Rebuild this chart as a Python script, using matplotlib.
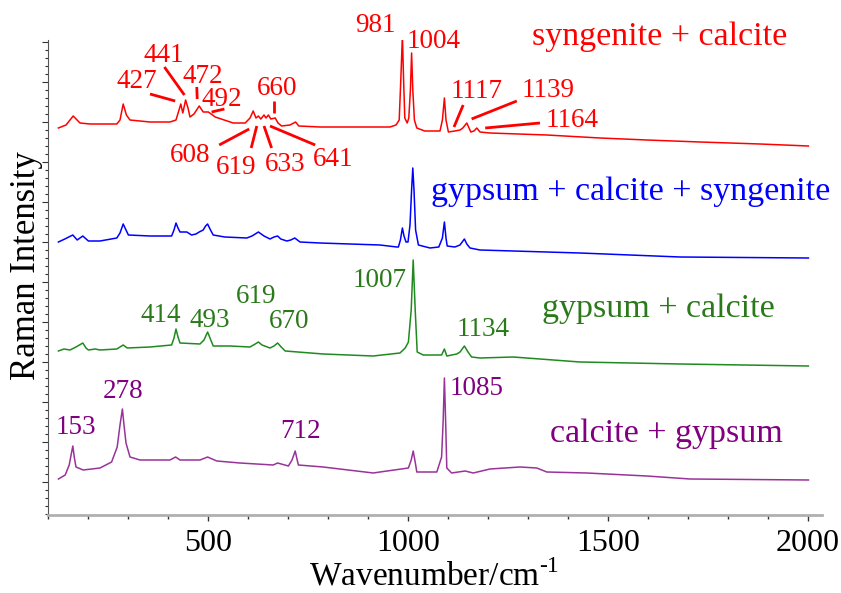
import numpy as np
import matplotlib
matplotlib.use("Agg")
import matplotlib.pyplot as plt
from matplotlib.ticker import MultipleLocator, FixedLocator, AutoMinorLocator, NullFormatter

plt.rcParams["font.family"] = ["Liberation Serif", "DejaVu Serif"]
plt.rcParams["mathtext.fontset"] = "custom"
plt.rcParams["mathtext.rm"] = "Liberation Serif"

# ----- traced spectra (wavenumber / cm-1, intensity in arbitrary units, already offset) -----
syn_x = [126, 145, 163, 180, 205, 272, 280, 288, 296, 305, 355, 405, 420, 432, 437, 444, 450, 455,
         465, 478, 488, 501, 518, 563, 593, 605, 613, 620, 626, 632, 640, 645, 651, 657, 668, 675,
         684, 705, 719, 727, 780, 880, 955, 970, 978, 982, 986, 989, 992, 998, 1002, 1006, 1009,
         1012, 1016, 1022, 1042, 1080, 1086, 1091, 1095, 1101, 1117, 1130, 1137, 1147, 1157, 1165,
         1172, 1180, 1205, 1347, 1480, 1597, 1730, 1880, 2001]
syn_y = [387, 390, 399, 392, 391, 391, 395, 411, 400, 395, 393, 393, 395, 411, 402, 415, 407, 398,
         401, 409, 403, 403, 398, 392, 392, 397, 404, 397, 399, 396, 400, 397, 400, 396, 397, 392,
         389, 390, 393, 389, 388, 388, 388, 390, 395, 435, 479, 435, 397, 392, 397, 425, 462,
         425, 395, 387, 384, 384, 395, 417, 395, 383, 384, 385, 387, 392, 383, 384,
         387, 383, 382, 380, 377, 375, 373, 371, 369]

gcs_x = [126, 142, 162, 173, 187, 201, 230, 272, 280, 288, 295, 301, 355, 409, 415, 420, 425, 430,
         447, 459, 470, 478, 488, 494, 499, 505, 513, 542, 597, 610, 626, 640, 655, 665, 674, 682,
         697, 707, 717, 730, 780, 855, 930, 972, 976, 981, 986, 990, 995, 1000, 1005, 1009, 1012,
         1015, 1019, 1026, 1055, 1077, 1086, 1091, 1095, 1098, 1117, 1130, 1141, 1147, 1155, 1180,
         1430, 1680, 2001]
gcs_y = [273, 276, 280, 275, 279, 274, 274, 277, 282, 291, 285, 280, 279, 279, 285, 292, 287, 283,
         283, 280, 281, 283, 285, 289, 291, 286, 280, 278, 277, 279, 283, 279, 276, 278, 279, 276,
         274, 275, 277, 273, 272, 271, 270, 268, 268, 275, 287, 279, 273, 273, 290, 325, 347,
         325, 285, 270, 267, 268, 277, 293, 277, 269, 268, 270, 276, 271, 267, 265,
         262, 258, 257]

gc_x = [126, 140, 155, 170, 187, 195, 201, 218, 230, 272, 288, 298, 355, 409, 415, 420, 425, 430,
        480, 490, 499, 505, 513, 555, 605, 618, 626, 635, 655, 665, 674, 683, 693, 788, 913, 980,
        993, 1001, 1008, 1013, 1018, 1023, 1038, 1084, 1091, 1097, 1122, 1130, 1141, 1150, 1159,
        1180, 1263, 1430, 1680, 2001]
gc_y = [164, 166, 165, 168, 172, 167, 165, 166, 165, 166, 170, 167, 168, 170, 177, 186, 178, 172,
        171, 175, 183, 177, 169, 169, 168, 171, 173, 170, 167, 169, 172, 168, 164, 161, 159, 162,
        167, 173, 205, 255, 205, 163, 160, 160, 166, 159, 161, 163, 169, 163, 158,
        157, 158, 153, 151, 149]

cg_x = [126, 143, 153, 162, 166, 170, 188, 230, 259, 273, 280, 286, 290, 295, 305, 330, 405, 419,
        430, 480, 499, 522, 580, 663, 674, 701, 710, 718, 723, 726, 788, 913, 930, 1001, 1008,
        1013, 1018, 1022, 1072, 1084, 1088, 1091, 1094, 1097, 1109, 1143, 1163, 1205, 1280, 1322,
        1347, 1447, 1597, 1705, 2001]
cg_y = [36, 40, 50, 69, 57, 48, 45, 47, 53, 68, 90, 106, 90, 72, 58, 55, 55, 58,
        55, 55, 58, 54, 52, 50, 52, 49, 55, 64, 55, 50, 48, 42, 43, 47, 55,
        64, 53, 43, 43, 58, 95, 137, 95, 47, 42, 44, 42, 46, 48, 47,
        43, 42, 39, 36, 35]

# ----- peak labels -----
syn_labels = ["981", "1004", "441", "427", "472", "492", "660", "608", "619", "633", "641",
              "1117", "1139", "1164"]
syn_label_x = [868, 997, 338, 272, 437, 483, 622, 405, 519, 643, 762, 1107, 1284, 1344]
syn_label_y = [483, 467, 453, 427, 432, 409, 420, 353, 341, 344, 349, 417, 418, 388]
# leader lines: (x0, y0, x1, y1)
syn_leaders = [(355, 421, 418, 414), (391, 448, 441, 420), (472, 428, 473, 416),
               (509, 403, 541, 406), (666, 414, 666, 402), (528, 370, 603, 386),
               (608, 367, 622, 389), (659, 367, 640, 389), (768, 370, 655, 389),
               (1138, 410, 1115, 388), (1272, 414, 1159, 396), (1330, 392, 1193, 387)]

gc_labels = ["414", "493", "619", "670", "1007", "1134"]
gc_label_x = [332, 455, 570, 651, 862, 1122]
gc_label_y = [193, 188, 212, 187, 228, 179]

cg_labels = ["153", "278", "712", "1085"]
cg_label_x = [120, 238, 680, 1105]
cg_label_y = [81, 117, 77, 120]

names = ["syngenite + calcite", "gypsum + calcite + syngenite", "gypsum + calcite", "calcite + gypsum"]
name_x = [1309, 1057, 1334, 1355]
name_y = [470, 315, 198, 73]

RED, BLUE, GREEN, PURPLE = "#ff0000", "#0000ff", "#1f8a1f", "#800080"
GREEN_TXT = "#2a7a1a"

fig = plt.figure(figsize=(8.41, 5.93), dpi=100)
ax = fig.add_axes([48 / 841, 78 / 593, 774 / 841, 475 / 593])

ax.plot(syn_x, syn_y, color=RED, lw=1.1)
ax.plot(gcs_x, gcs_y, color=BLUE, lw=1.1)
ax.plot(gc_x, gc_y, color=GREEN, lw=1.1)
ax.plot(cg_x, cg_y, color="#993399", lw=1.1)

for t, x, y in zip(syn_labels, syn_label_x, syn_label_y):
    ax.text(x, y, t, color=RED, fontsize=19.5, ha="left", va="baseline")
for x0, y0, x1, y1 in syn_leaders:
    ax.plot([x0, x1], [y0, y1], color=RED, lw=2.0, solid_capstyle="butt")
for t, x, y in zip(gc_labels, gc_label_x, gc_label_y):
    ax.text(x, y, t, color=GREEN_TXT, fontsize=19.5, ha="left", va="baseline")
for t, x, y in zip(cg_labels, cg_label_x, cg_label_y):
    ax.text(x, y, t, color=PURPLE, fontsize=19.5, ha="left", va="baseline")

for t, x, y, c in zip(names, name_x, name_y, [RED, BLUE, GREEN_TXT, PURPLE]):
    ax.text(x, y, t, color=c, fontsize=24.5, ha="left", va="baseline")

ax.set_xlim(100, 2035)
ax.set_ylim(0, 475)
ax.spines["top"].set_visible(False)
ax.spines["right"].set_visible(False)
ax.spines["left"].set_color("#555555")
ax.spines["left"].set_linewidth(0.8)
ax.spines["bottom"].set_color("#b0b0b0")
ax.spines["bottom"].set_linewidth(2.0)

ax.xaxis.set_major_locator(MultipleLocator(500))
ax.xaxis.set_minor_locator(MultipleLocator(100))
ax.yaxis.set_major_locator(FixedLocator(np.arange(33.3, 475, 40)))
ax.yaxis.set_minor_locator(AutoMinorLocator(5))
ax.yaxis.set_major_formatter(NullFormatter())
ax.tick_params(axis="x", which="major", length=4, width=1, color="#333333",
               labelsize=23, pad=6)
ax.tick_params(axis="x", which="minor", length=3, width=1, color="#333333")
ax.tick_params(axis="y", which="major", length=4, width=0.8, color="#333333")
ax.tick_params(axis="y", which="minor", length=2, width=0.8, color="#333333")

fig.text(434 / 841, 1 - 585 / 593, r"Wavenumber/cm$^{\text{-1}}$", fontsize=24,
         ha="center", va="baseline")
fig.text(27 / 841, 1 - 266 / 593, "Raman Intensity", rotation=90, fontsize=25,
         ha="center", va="center")

fig.savefig("out.png", dpi=100)
